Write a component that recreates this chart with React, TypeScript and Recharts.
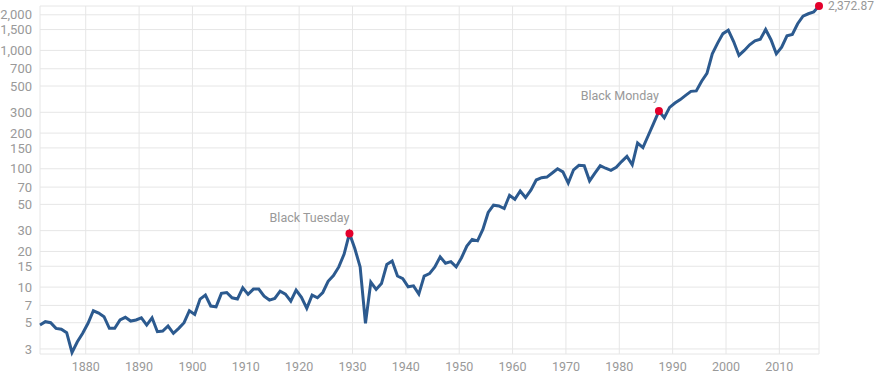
import { CartesianGrid, Line, LineChart, XAxis, YAxis } from 'recharts';

// yearly index level (1871 .. 2017), log scale
const startYear = 1871;
const levels = [
  4.78, 5.1, 5.0, 4.48, 4.4, 4.12, 2.8, 3.45, 4.07, // 1871-1879
  4.94, 6.31, 6.03, 5.62, 4.48, 4.48, 5.27, 5.55, 5.16, 5.27, // 1880s
  5.5, 4.78, 5.5, 4.2, 4.25, 4.69, 4.07, 4.48, 5.0, 6.31, // 1890s
  5.88, 7.92, 8.56, 6.92, 6.82, 8.85, 9.0, 8.12, 7.92, 9.87, // 1900s
  8.68, 9.62, 9.62, 8.39, 7.77, 8.03, 9.25, 8.73, 7.62, 9.43, // 1910s
  8.2, 6.61, 8.56, 8.12, 9.0, 11.2, 12.5, 14.8, 19.0, 28.4, // 1920s
  21.2, 14.8, 4.94, 11.0, 9.56, 10.7, 15.5, 16.6, 12.4, 11.8, // 1930s
  10.06, 10.25, 8.73, 12.4, 13.0, 14.8, 18.0, 15.9, 16.4, 14.8, // 1940s
  17.7, 22.2, 25.3, 24.6, 30.7, 42.7, 49.2, 48.5, 46.1, 59.7, // 1950s
  55.2, 64.9, 57.1, 66, 80.3, 84, 85, 92, 100, 94, // 1960s
  75.6, 98, 107, 106, 79, 92, 106, 101, 97, 103, // 1970s
  115, 127, 108, 165, 151, 191, 242, 307, 270, 330, // 1980s
  359, 384, 417, 451, 455, 549, 640, 935, 1153, 1386, // 1990s
  1484, 1188, 907, 1000, 1116, 1206, 1245, 1502, 1231, 935, // 2000s
  1066, 1328, 1365, 1680, 1948, 2040, 2110, 2372.87, // 2010s
];

// points are sampled part-way through each year
const sampleOffset = 0.43;

const noteYears = [1929, 1987];
const noteLabels = ['Black Tuesday', 'Black Monday'];

const xTicks = [1880, 1890, 1900, 1910, 1920, 1930, 1940, 1950, 1960, 1970, 1980, 1990, 2000, 2010];
const yTicks = [3, 5, 7, 10, 15, 20, 30, 50, 70, 100, 150, 200, 300, 500, 700, 1000, 1500, 2000];

const lastIndex = levels.length - 1;

const data = levels.map((v, i) => {
  const year = startYear + i;
  const n = noteYears.indexOf(year);
  return {
    x: year + sampleOffset,
    value: v,
    note: n >= 0 ? noteLabels[n] : i === lastIndex ? 'last' : null,
  };
});

const fmt = (v: number) => v.toLocaleString('en-US');
const fmtLast = (v: number) =>
  v.toLocaleString('en-US', { minimumFractionDigits: 2, maximumFractionDigits: 2 });

const textColor = '#999';
const red = '#e4002b';

const NoteDot = (props: any) => {
  const { cx, cy, payload, index } = props;
  if (!payload.note) return <g key={`d-${index}`} />;
  if (payload.note === 'last') {
    return (
      <g key={`d-${index}`}>
        <circle cx={cx} cy={cy} r={4} fill={red} />
        <text x={cx + 9} y={cy} dominantBaseline='central' fontSize={12} fill={textColor}>
          {fmtLast(payload.value)}
        </text>
      </g>
    );
  }
  return (
    <g key={`d-${index}`}>
      <circle cx={cx} cy={cy} r={4} fill={red} />
      <text x={cx} y={cy - 16} textAnchor='end' dominantBaseline='central' fontSize={12.5} fill={textColor}>
        {payload.note}
      </text>
    </g>
  );
};

export default function App() {
  return (
    <div style={{ position: 'absolute', left: 0, top: 0, fontFamily: 'Roboto, sans-serif' }}>
      <LineChart width={875} height={373} data={data} margin={{ top: 6, right: 56, bottom: 0, left: 0 }}>
        <CartesianGrid stroke='#e6e6e6' strokeWidth={1} />
        <XAxis
          type='number'
          dataKey='x'
          domain={['dataMin', 'dataMax']}
          ticks={xTicks}
          interval={0}
          axisLine={false}
          tickLine={false}
          tickMargin={2}
          height={19}
          tick={{ fill: textColor, fontSize: 12.5 }}
        />
        <YAxis
          scale='log'
          domain={[2.72, 2372.87]}
          ticks={yTicks}
          interval={0}
          tickFormatter={fmt}
          axisLine={false}
          tickLine={false}
          width={40}
          tick={{ fill: textColor, fontSize: 13 }}
        />
        <Line
          type='linear'
          dataKey='value'
          stroke='#2c5a8f'
          strokeWidth={3}
          dot={NoteDot}
          activeDot={false}
          isAnimationActive={false}
        />
      </LineChart>
    </div>
  );
}
